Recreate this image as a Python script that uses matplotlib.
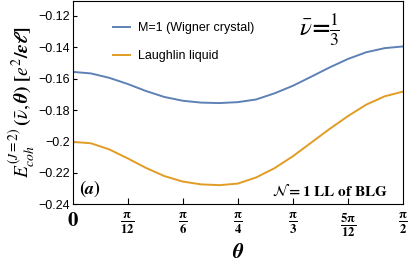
import numpy as np
import matplotlib
matplotlib.use("Agg")
import matplotlib.pyplot as plt

plt.rcParams['mathtext.fontset'] = 'stix'
plt.rcParams['font.family'] = ['Liberation Sans', 'DejaVu Sans']

theta_deg = [0, 5, 10, 15, 20, 25, 30, 35, 40, 45, 50, 55, 60, 65, 70, 75, 80, 85, 90]
wigner = [-0.1556, -0.1566, -0.1594, -0.1633, -0.1678, -0.1716, -0.1740, -0.1752, -0.1755, -0.1749,
          -0.1732, -0.1693, -0.1645, -0.1587, -0.1528, -0.1474, -0.1431, -0.1405, -0.1394]
laughlin = [-0.2002, -0.2011, -0.2050, -0.2107, -0.2168, -0.2220, -0.2255, -0.2273, -0.2278, -0.2268,
            -0.2229, -0.2170, -0.2094, -0.2007, -0.1920, -0.1838, -0.1765, -0.1712, -0.1682]

xtick_vals = [0, 15, 30, 45, 60, 75, 90]
xtick_labels = [r'$\mathbf{0}$', r'$\mathbf{\frac{\pi}{12}}$', r'$\mathbf{\frac{\pi}{6}}$',
                r'$\mathbf{\frac{\pi}{4}}$', r'$\mathbf{\frac{\pi}{3}}$',
                r'$\mathbf{\frac{5\pi}{12}}$', r'$\mathbf{\frac{\pi}{2}}$']
ytick_vals = [-0.12, -0.14, -0.16, -0.18, -0.20, -0.22, -0.24]
ytick_labels = ['−0.12', '−0.14', '−0.16', '−0.18', '−0.2', '−0.22', '−0.24']

th = np.deg2rad(theta_deg)

fig = plt.figure(figsize=(4.11, 2.69), dpi=100)
ax = fig.add_axes([0.1764, 0.2405, 0.8041, 0.7555])
ax.plot(th, wigner, color='#5E81B5', lw=1.4, label='M=1 (Wigner crystal)')
ax.plot(th, laughlin, color='#E19C24', lw=1.4, label='Laughlin liquid')

ax.set_xlim(0, np.pi / 2)
ax.set_ylim(-0.24, -0.1105)
ax.set_xticks(np.deg2rad(xtick_vals))
ax.set_xticklabels(xtick_labels, fontsize=13)
ax.get_xticklabels()[0].set_fontsize(15)
ax.set_yticks(ytick_vals)
ax.set_yticklabels(ytick_labels, fontsize=9)
ax.tick_params(axis='both', direction='in', top=False, right=False)
ax.tick_params(axis='x', length=4, pad=5)
ax.tick_params(axis='y', length=3, pad=2)
ax.xaxis.get_major_ticks()[0].tick1line.set_visible(False)
ax.xaxis.get_major_ticks()[-1].tick1line.set_visible(False)

ax.set_xlabel(r'$\boldsymbol{\theta}$', fontsize=15, labelpad=3)
ax.set_ylabel(r'$\boldsymbol{E^{(J=2)}_{coh}\,(\bar{\nu},\theta)\;[e^2/\epsilon\ell]}$', fontsize=14, labelpad=1)

leg = ax.legend(loc='upper left', frameon=False, fontsize=9, handlelength=1.3,
                handletextpad=0.7, labelspacing=1.25, bbox_to_anchor=(0.09, 0.95))

ax.text(0.685, 0.83, r'$\boldsymbol{\bar{\nu}\!=\!\frac{1}{3}}$', transform=ax.transAxes, fontsize=18)
ax.text(0.02, 0.05, r'$\boldsymbol{(a)}$', transform=ax.transAxes, fontsize=13)
ax.text(0.955, 0.04, r'$\boldsymbol{\mathcal{N}}$$\mathbf{=1\ LL\ of\ BLG}$', transform=ax.transAxes,
        fontsize=11, ha='right')

fig.savefig('out.png', dpi=100)
